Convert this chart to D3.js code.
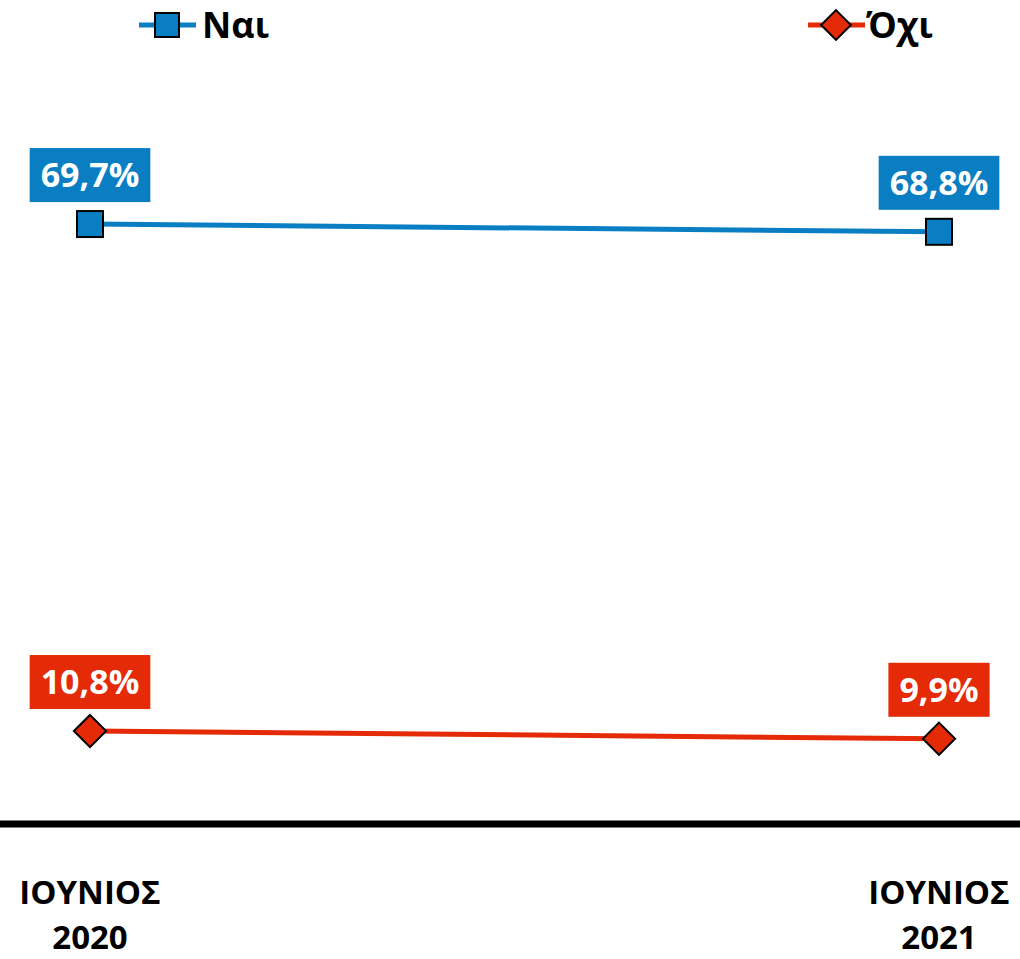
<!DOCTYPE html>
<html>
<head>
<meta charset="utf-8">
<script src="https://cdn.jsdelivr.net/npm/d3@7"></script>
<style>
  html, body { margin: 0; padding: 0; background: #fff; }
  svg { display: block; font-family: "Open Sans", "DejaVu Sans", sans-serif; font-weight: 700; }
</style>
</head>
<body>
<svg id="chart" width="1020" height="959"></svg>
<script>
// data
const periods = ["ΙΟΥΝΙΟΣ 2020", "ΙΟΥΝΙΟΣ 2021"];
const nai = [69.7, 68.8];
const oxi = [10.8, 9.9];
const seriesNames = ["Ναι", "Όχι"];

const blue = "#0A7EC3", red = "#E42A06";

const svg = d3.select("#chart");
const W = 1020;

const x = d3.scalePoint().domain(periods).range([90, 939]);
const y = d3.scaleLinear().domain([0, 80]).range([824, 135.4]);

const series = [
  { name: seriesNames[0], values: nai, color: blue, shape: "square" },
  { name: seriesNames[1], values: oxi, color: red, shape: "diamond" }
];

const fmt = v => d3.format(".1f")(v).replace(".", ",") + "%";

function marker(g, shape, color, size) {
  if (shape === "square") {
    g.append("rect")
      .attr("x", -size / 2).attr("y", -size / 2)
      .attr("width", size).attr("height", size)
      .attr("fill", color).attr("stroke", "#000").attr("stroke-width", 2);
  } else {
    const h = size * 0.62;
    g.append("path")
      .attr("d", `M0,${-h}L${h},0L0,${h}L${-h},0Z`)
      .attr("fill", color).attr("stroke", "#000").attr("stroke-width", 2);
  }
}

// axis baseline
svg.append("line")
  .attr("x1", 0).attr("x2", W)
  .attr("y1", y(0)).attr("y2", y(0))
  .attr("stroke", "#000").attr("stroke-width", 7);

// category labels, two lines each (separate text nodes)
const xl = svg.append("g").selectAll("g")
  .data(periods).enter()
  .append("g")
  .attr("transform", d => `translate(${x(d)},0)`);
[904, 949].forEach((yy, k) => {
  xl.append("text")
    .attr("text-anchor", "middle")
    .attr("y", yy)
    .attr("font-size", 33)
    .attr("fill", "#000")
    .text(d => d.split(" ")[k]);
});

const line = d3.line().x((d, i) => x(periods[i])).y(d => y(d));

series.forEach(s => {
  const g = svg.append("g");
  g.append("path")
    .attr("d", line(s.values))
    .attr("fill", "none")
    .attr("stroke", s.color)
    .attr("stroke-width", 5);

  s.values.forEach((v, i) => {
    const m = g.append("g").attr("transform", `translate(${x(periods[i])},${y(v)})`);
    marker(m, s.shape, s.color, 26);

    // label box above the point
    const lab = g.append("g").attr("transform", `translate(${x(periods[i])},${y(v) - 49})`);
    const t = lab.append("text")
      .attr("text-anchor", "middle")
      .attr("dy", "0.36em")
      .attr("font-size", 34)
      .attr("fill", "#fff")
      .text(fmt(v));
    const bb = t.node().getBBox();
    lab.insert("rect", "text")
      .attr("x", -bb.width / 2 - 11).attr("y", -27)
      .attr("width", bb.width + 22).attr("height", 54)
      .attr("fill", s.color);
  });
});

// legend
const legendX = [139, 808];
series.forEach((s, i) => {
  const g = svg.append("g").attr("transform", `translate(${legendX[i]},25)`);
  g.append("line").attr("x1", 0).attr("x2", 57).attr("y1", 0).attr("y2", 0)
    .attr("stroke", s.color).attr("stroke-width", 5);
  const m = g.append("g").attr("transform", "translate(28,0)");
  marker(m, s.shape, s.color, 24);
  g.append("text")
    .attr("x", i === 0 ? 63 : 58).attr("y", 0).attr("dy", "0.36em")
    .attr("font-size", 36)
    .attr("fill", "#000")
    .text(s.name);
});
</script>
</body>
</html>
